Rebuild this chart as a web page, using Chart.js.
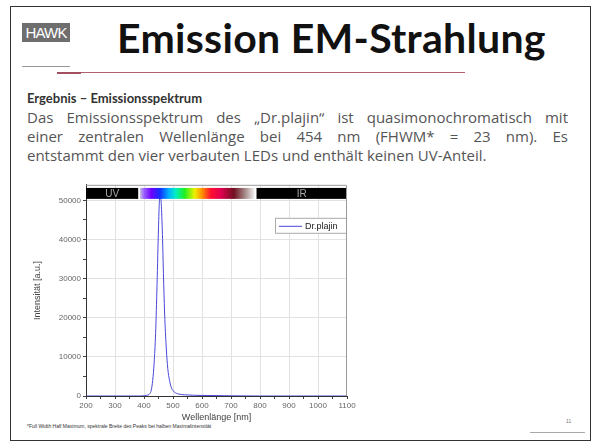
<!DOCTYPE html>
<html>
<head>
<meta charset="utf-8">
<script src="https://cdn.jsdelivr.net/npm/chart.js@4.4.1/dist/chart.umd.min.js"></script>
<style>
  html, body { margin: 0; padding: 0; background: #fff; }
  body { width: 596px; height: 445px; position: relative; overflow: hidden; font-family: Lato, "Open Sans", sans-serif; }
  .frame { position: absolute; left: 10px; top: 6px; width: 579px; height: 433px; border: 1px solid #333; }
  .logo { position: absolute; left: 22px; top: 23px; width: 48px; height: 19px; background: #6e6e6e; color: #fff;
          font: 15px "Liberation Sans", Arial, sans-serif; line-height: 19px; text-align: center; letter-spacing: -0.8px; }
  .title { position: absolute; left: 117px; top: 13px; font: bold 41px Lato, sans-serif; color: #111; letter-spacing: 0.3px; }
  .grayline { position: absolute; left: 22px; top: 66px; width: 48px; height: 1px; background: #999; }
  .redline { position: absolute; left: 57px; top: 72px; width: 408px; height: 1px; background: #b06070; }
  .redline2 { position: absolute; left: 57px; top: 72px; width: 24px; height: 2px; background: #a05060; }
  .head { position: absolute; left: 27px; top: 90px; font: bold 13px Lato, sans-serif; color: #333; }
  .para { position: absolute; left: 27px; top: 108px; width: 541px; font: 15px "Open Sans", sans-serif; color: #555; line-height: 19px; }
  .para div { text-align: justify; text-align-last: justify; white-space: nowrap; }
  .para div.last { text-align-last: left; }
  .chartbox { position: absolute; left: 28px; top: 178px; width: 332px; height: 245px; }
  .foot { position: absolute; left: 27px; top: 423px; font: 5px "Liberation Sans", sans-serif; color: #333; }
  .pnum { position: absolute; left: 566px; top: 418px; font: 5px "Liberation Sans", sans-serif; color: #777; }
  .pline { position: absolute; left: 530px; top: 432px; width: 55px; height: 1px; background: #aaa; }
</style>
</head>
<body>
<div class="frame"></div>
<div class="logo">HAWK</div>
<div class="title">Emission EM-Strahlung</div>
<div class="grayline"></div>
<div class="redline"></div>
<div class="redline2"></div>
<div class="head">Ergebnis – Emissionsspektrum</div>
<div class="para">
  <div>Das Emissionsspektrum des „Dr.plajin“ ist quasimonochromatisch mit</div>
  <div>einer zentralen Wellenlänge bei 454 nm (FHWM* = 23 nm). Es</div>
  <div class="last">entstammt den vier verbauten LEDs und enthält keinen UV-Anteil.</div>
</div>
<div class="chartbox"><canvas id="spectrumChart"></canvas></div>
<div class="foot">*Full Width Half Maximum, spektrale Breite des Peaks bei halben Maximalintensität</div>
<div class="pnum">11</div>
<div class="pline"></div>

<script>
const wavelengths = [200, 300, 380, 410, 420, 425, 430, 435, 440, 445, 450, 453, 457, 460, 464, 468, 472, 477, 482, 488, 495, 505, 520, 540, 600, 700, 800, 900, 1000, 1100];
const intensities = [0, 0, 0, 200, 600, 1500, 4000, 8500, 16000, 28500, 43000, 49500, 51000, 48500, 40000, 28500, 19500, 12000, 7000, 4000, 2000, 1000, 500, 300, 150, 50, 0, 0, 0, 0];

// Tick labels
const xTicks = [200, 300, 400, 500, 600, 700, 800, 900, 1000, 1100];
const yTicks = [0, 10000, 20000, 30000, 40000, 50000];

// Spectral bands shown in the strip on top of the plot
const bandLabels = ['UV', '', 'IR'];
const bandStarts = [200, 386, 788];
const bandEnds = [380, 781, 1100];
const bandLow = 50400;
const bandHigh = 53200;

// Colour stops of the visible strip
const rainbowNm = [386, 400, 425, 455, 485, 510, 540, 575, 600, 630, 665, 710, 745, 781];
const rainbowColors = ['#c8c0e0', '#9a60ff', '#7000ff', '#1030ff', '#00b0ff', '#00f0c0', '#20f020', '#f0f000', '#ff9000', '#ff1030', '#e00050', '#701020', '#a08080', '#f0f0f0'];

const spectrumStrip = {
    id: 'spectrumStrip',
    afterDatasetsDraw(chart) {
        const { ctx, scales: { x, y } } = chart;
        const top = y.getPixelForValue(bandHigh);
        const bottom = y.getPixelForValue(bandLow);
        ctx.save();
        bandStarts.forEach((start, i) => {
            const left = x.getPixelForValue(start);
            const right = x.getPixelForValue(bandEnds[i]);
            if (bandLabels[i]) {
                ctx.fillStyle = '#000';
                ctx.fillRect(left, top, right - left, bottom - top);
                ctx.fillStyle = '#aaa';
                ctx.font = '10px "Liberation Sans", sans-serif';
                ctx.textAlign = 'center';
                ctx.textBaseline = 'middle';
                ctx.fillText(bandLabels[i], (left + right) / 2, (top + bottom) / 2 + 0.5);
            } else {
                const grad = ctx.createLinearGradient(left, 0, right, 0);
                rainbowNm.forEach((nm, k) => {
                    grad.addColorStop((nm - start) / (bandEnds[i] - start), rainbowColors[k]);
                });
                ctx.fillStyle = grad;
                ctx.fillRect(left, top, right - left, bottom - top);
            }
        });
        ctx.restore();
    }
};

const legendBox = {
    id: 'legendBox',
    afterDraw(chart) {
        const { ctx, chartArea } = chart;
        const right = chartArea.right;
        const left = right - 72;
        const top = chartArea.top + 33;
        ctx.save();
        ctx.fillStyle = '#fff';
        ctx.fillRect(left, top, 72, 16);
        ctx.strokeStyle = '#aaa';
        ctx.lineWidth = 1;
        ctx.strokeRect(left + 0.5, top + 0.5, 71, 15);
        ctx.strokeStyle = '#4848d8';
        ctx.beginPath();
        ctx.moveTo(left + 4, top + 8.5);
        ctx.lineTo(left + 27, top + 8.5);
        ctx.stroke();
        ctx.fillStyle = '#222';
        ctx.font = '9px "Liberation Sans", sans-serif';
        ctx.textBaseline = 'middle';
        ctx.fillText(chart.data.datasets[0].label, left + 30, top + 8.5);
        ctx.restore();
    }
};

const frameBox = {
    id: 'frameBox',
    afterDraw(chart) {
        const { ctx, chartArea: a } = chart;
        ctx.save();
        ctx.strokeStyle = '#999';
        ctx.lineWidth = 1;
        ctx.beginPath();
        ctx.moveTo(a.left, a.top + 0.5);
        ctx.lineTo(a.right - 0.5, a.top + 0.5);
        ctx.lineTo(a.right - 0.5, a.bottom);
        ctx.stroke();
        ctx.restore();
    }
};

// true for labelled ticks, false for minor ones
function isMajor(c, list) {
    return !!(c && c.tick && list.includes(c.tick.value));
}

const ctx = document.getElementById('spectrumChart').getContext('2d');
new Chart(ctx, {
    type: 'line',
    data: {
        datasets: [{
            label: 'Dr.plajin',
            data: wavelengths.map((w, i) => ({ x: w, y: intensities[i] })),
            borderColor: '#4848d8',
            borderWidth: 1,
            pointRadius: 0,
            fill: false,
            cubicInterpolationMode: 'monotone'
        }]
    },
    options: {
        responsive: true,
        maintainAspectRatio: false,
        animation: false,
        layout: { padding: { top: 6, right: 13, left: 0, bottom: 0 } },
        plugins: {
            legend: { display: false },
            tooltip: { enabled: false }
        },
        scales: {
            x: {
                type: 'linear',
                min: 200,
                max: 1100,
                afterBuildTicks(scale) {
                    const t = [];
                    for (let v = 200; v <= 1100; v += 50) t.push({ value: v });
                    scale.ticks = t;
                },
                afterFit(scale) { scale.height = 27; },
                ticks: {
                    autoSkip: false,
                    maxRotation: 0,
                    padding: 2,
                    color: '#666',
                    font: { family: '"Liberation Sans", sans-serif', size: 8 },
                    callback: v => xTicks.includes(v) ? String(v) : ''
                },
                grid: {
                    color: c => isMajor(c, xTicks) && c.tick.value !== 200 && c.tick.value !== 1100 ? '#e2e2e2' : 'rgba(0,0,0,0)',
                    tickColor: '#444',
                    tickLength: 3
                },
                border: { color: '#333', width: 1 },
                title: {
                    display: true,
                    text: 'Wellenlänge [nm]',
                    color: '#444',
                    padding: { top: 1, bottom: 0 },
                    font: { family: '"Liberation Sans", sans-serif', size: 9 }
                }
            },
            y: {
                min: 0,
                max: 54000,
                afterBuildTicks(scale) {
                    const t = [];
                    for (let v = 0; v <= 50000; v += 5000) t.push({ value: v });
                    scale.ticks = t;
                },
                afterFit(scale) { scale.width = 58; },
                ticks: {
                    autoSkip: false,
                    padding: 2,
                    color: '#666',
                    font: { family: '"Liberation Sans", sans-serif', size: 8 },
                    callback: v => yTicks.includes(v) ? String(v) : ''
                },
                grid: {
                    color: c => isMajor(c, yTicks) && c.tick.value !== 0 ? '#e2e2e2' : 'rgba(0,0,0,0)',
                    tickColor: '#444',
                    tickLength: 3
                },
                border: { color: '#333', width: 1 },
                title: {
                    display: true,
                    text: 'Intensität [a.u.]',
                    color: '#444',
                    padding: { top: 4, bottom: 0 },
                    font: { family: '"Liberation Sans", sans-serif', size: 9 }
                }
            }
        }
    },
    plugins: [spectrumStrip, legendBox, frameBox]
});
</script>
</body>
</html>
